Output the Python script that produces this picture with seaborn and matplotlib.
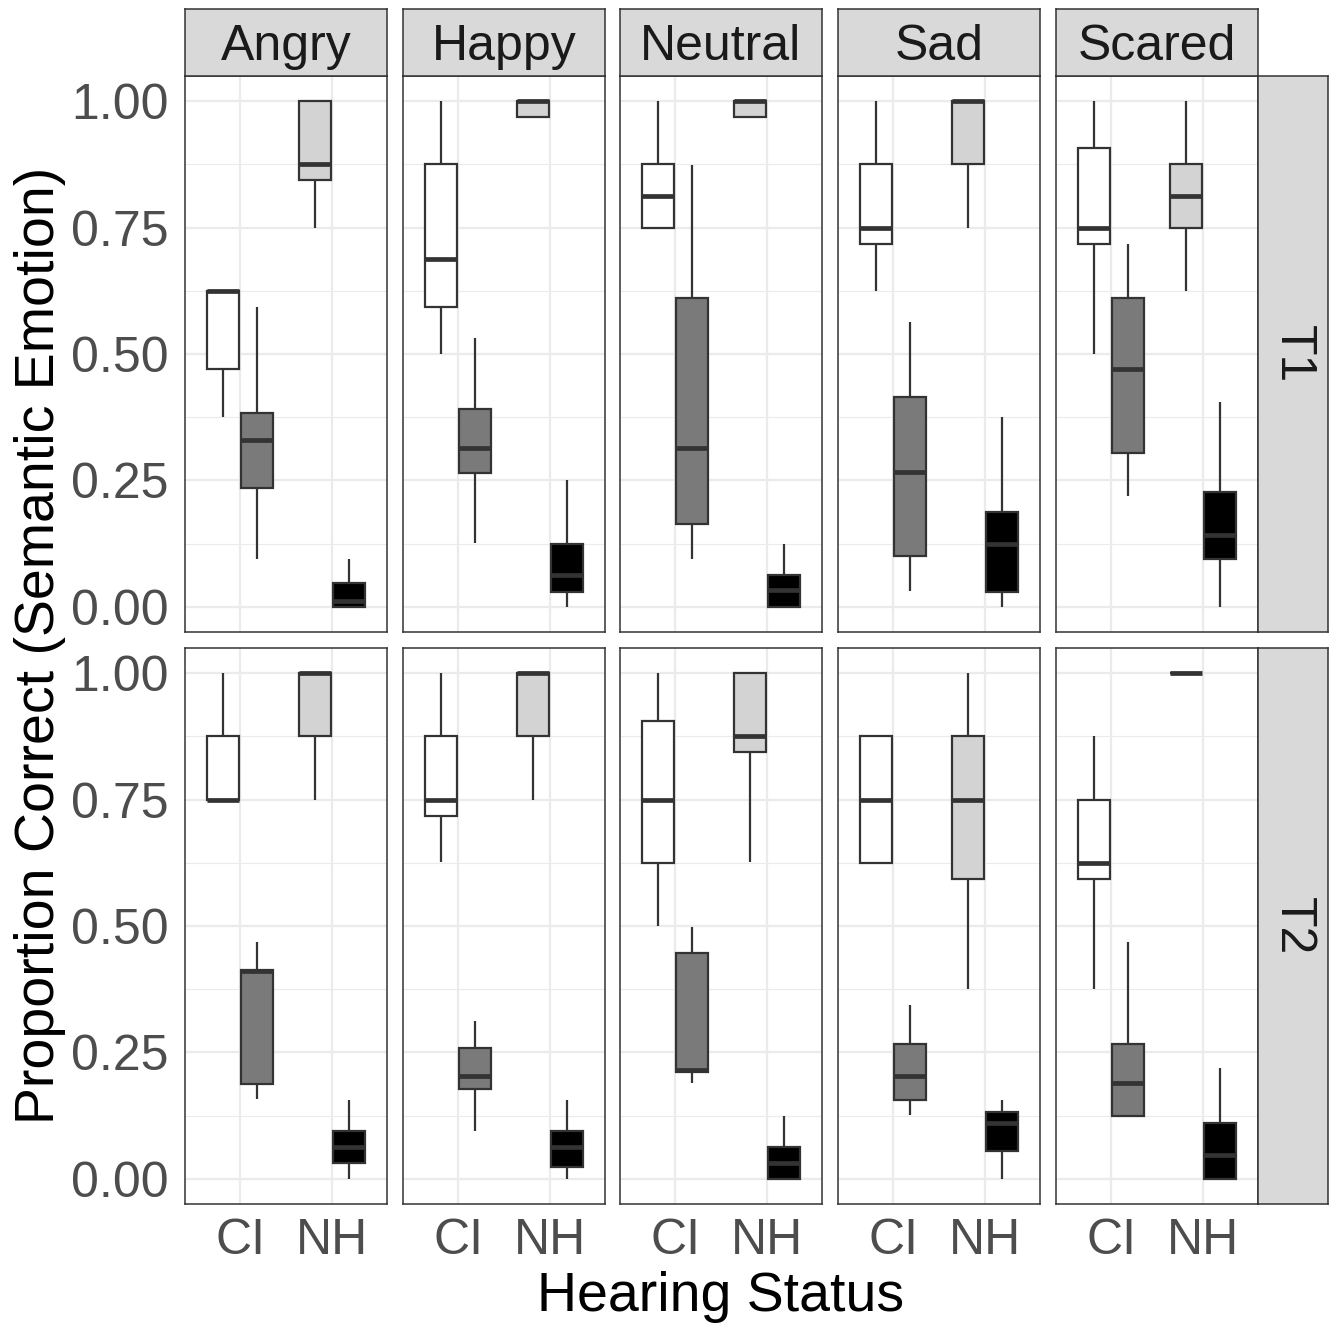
import numpy as np
import pandas as pd
import matplotlib
matplotlib.use("Agg")
import matplotlib.pyplot as plt
import seaborn as sns
from matplotlib.ticker import MultipleLocator, FixedLocator

sns.set_theme(style="white")
plt.rcParams["font.family"] = ["Liberation Sans", "DejaVu Sans"]

emotions = ["Angry", "Happy", "Neutral", "Sad", "Scared"]
times = ["T1", "T2"]
status_levels = ["CI", "NH"]
response_levels = ["Target", "Other"]
y_ticks = [0.0, 0.25, 0.5, 0.75, 1.0]
y_tick_labels = ["0.00", "0.25", "0.50", "0.75", "1.00"]

# box summaries [min, q1, median, q3, max]; order: CI-Target, CI-Other, NH-Target, NH-Other
angry_t1 = [[0.375, 0.47, 0.625, 0.625, 0.625], [0.094, 0.235, 0.329, 0.383, 0.593],
            [0.75, 0.844, 0.875, 1.0, 1.0], [0.0, 0.0, 0.012, 0.047, 0.094]]
happy_t1 = [[0.5, 0.593, 0.688, 0.875, 1.0], [0.126, 0.265, 0.314, 0.391, 0.531],
            [0.968, 0.968, 1.0, 1.0, 1.0], [0.0, 0.03, 0.063, 0.124, 0.25]]
neutral_t1 = [[0.75, 0.75, 0.8125, 0.875, 1.0], [0.094, 0.163, 0.314, 0.61, 0.874],
              [0.968, 0.968, 1.0, 1.0, 1.0], [0.0, 0.0, 0.033, 0.0625, 0.124]]
sad_t1 = [[0.625, 0.718, 0.75, 0.875, 1.0], [0.032, 0.101, 0.266, 0.414, 0.563],
          [0.75, 0.875, 1.0, 1.0, 1.0], [0.0, 0.03, 0.124, 0.1875, 0.375]]
scared_t1 = [[0.5, 0.718, 0.75, 0.907, 1.0], [0.219, 0.305, 0.47, 0.61, 0.718],
             [0.625, 0.75, 0.8125, 0.875, 1.0], [0.0, 0.094, 0.142, 0.226, 0.405]]
angry_t2 = [[0.75, 0.75, 0.75, 0.875, 1.0], [0.157, 0.1875, 0.41, 0.412, 0.468],
            [0.75, 0.875, 1.0, 1.0, 1.0], [0.0, 0.032, 0.0625, 0.095, 0.156]]
happy_t2 = [[0.626, 0.718, 0.75, 0.875, 1.0], [0.095, 0.178, 0.203, 0.258, 0.312],
            [0.75, 0.875, 1.0, 1.0, 1.0], [0.0, 0.0225, 0.0625, 0.095, 0.156]]
neutral_t2 = [[0.5, 0.625, 0.75, 0.906, 1.0], [0.189, 0.212, 0.216, 0.446, 0.499],
              [0.626, 0.844, 0.876, 1.0, 1.0], [0.0, 0.0, 0.032, 0.0625, 0.124]]
sad_t2 = [[0.625, 0.625, 0.75, 0.875, 0.875], [0.126, 0.156, 0.203, 0.266, 0.343],
          [0.376, 0.593, 0.75, 0.875, 1.0], [0.0, 0.054, 0.11, 0.133, 0.156]]
scared_t2 = [[0.376, 0.593, 0.625, 0.75, 0.875], [0.124, 0.124, 0.189, 0.266, 0.468],
             [1.0, 1.0, 1.0, 1.0, 1.0], [0.0, 0.0, 0.047, 0.11, 0.219]]

panels = {
    ("T1", "Angry"): angry_t1, ("T1", "Happy"): happy_t1, ("T1", "Neutral"): neutral_t1,
    ("T1", "Sad"): sad_t1, ("T1", "Scared"): scared_t1,
    ("T2", "Angry"): angry_t2, ("T2", "Happy"): happy_t2, ("T2", "Neutral"): neutral_t2,
    ("T2", "Sad"): sad_t2, ("T2", "Scared"): scared_t2,
}

rows = []
for (t, e), boxes in panels.items():
    k = 0
    for s in status_levels:
        for r in response_levels:
            for v in boxes[k]:
                rows.append(dict(Time=t, Emotion=e, Status=s, Response=r, Value=v))
            k += 1
df = pd.DataFrame(rows)

palettes = {"CI": {"Target": "white", "Other": "#7A7A7A"},
            "NH": {"Target": "#D3D3D3", "Other": "black"}}

W, H = 1337, 1324
fig = plt.figure(figsize=(W / 100, H / 100), dpi=100)

col_left = [185, 403, 620, 838, 1056]
pw = 202
row_top = [76, 648]
ph = 556
edge = "#333333"

def fax(x, y, w, h):
    return fig.add_axes([x / W, 1 - (y + h) / H, w / W, h / H])

for ri, t in enumerate(times):
    for ci, e in enumerate(emotions):
        ax = fax(col_left[ci], row_top[ri], pw, ph)
        sub = df[(df.Time == t) & (df.Emotion == e)]
        for s in status_levels:
            sns.boxplot(data=sub[sub.Status == s], x="Status", y="Value", hue="Response",
                        order=status_levels, hue_order=response_levels, palette=palettes[s],
                        width=0.75, gap=0.06, dodge=True, whis=(0, 100), linecolor=edge,
                        linewidth=1.6, showcaps=False, legend=False, ax=ax,
                        medianprops=dict(linewidth=3.4, color=edge),
                        whiskerprops=dict(linewidth=1.6, color=edge))
        ax.set_xlim(-0.6, 1.6)
        ax.set_ylim(-0.05, 1.05)
        ax.set_axisbelow(True)
        ax.yaxis.set_major_locator(FixedLocator(y_ticks))
        ax.yaxis.set_minor_locator(FixedLocator([0.125, 0.375, 0.625, 0.875]))
        ax.xaxis.set_major_locator(FixedLocator([0, 1]))
        ax.grid(True, which="major", color="#EBEBEB", linewidth=1.6)
        ax.grid(True, which="minor", axis="y", color="#EBEBEB", linewidth=0.8)
        ax.set_xlabel("")
        ax.set_ylabel("")
        ax.set_facecolor("white")
        for sp in ax.spines.values():
            sp.set_color(edge)
            sp.set_linewidth(1.1)
            sp.set_visible(True)
        ax.tick_params(axis="both", which="major", length=5, width=1.3, color=edge,
                       labelsize=36, labelcolor="#4D4D4D")
        ax.tick_params(axis="y", which="minor", length=0)
        ax.tick_params(axis="x", pad=5)
        ax.tick_params(axis="y", pad=7)
        if ci == 0:
            ax.set_yticklabels(y_tick_labels)
        else:
            ax.tick_params(axis="y", left=False, labelleft=False)
        if ri == 1:
            ax.set_xticklabels(status_levels)
        else:
            ax.tick_params(axis="x", bottom=False, labelbottom=False)

# top strips
for ci, e in enumerate(emotions):
    sax = fax(col_left[ci], 9, pw, 67)
    sax.set_facecolor("#D9D9D9")
    sax.set_xticks([]); sax.set_yticks([])
    for sp in sax.spines.values():
        sp.set_color(edge); sp.set_linewidth(1.1); sp.set_visible(True)
    sax.text(0.5, 0.44, e, ha="center", va="center", fontsize=36, color="#1A1A1A",
             transform=sax.transAxes)

# right strips
for ri, t in enumerate(times):
    sax = fax(1258, row_top[ri], 70, ph)
    sax.set_facecolor("#D9D9D9")
    sax.set_xticks([]); sax.set_yticks([])
    for sp in sax.spines.values():
        sp.set_color(edge); sp.set_linewidth(1.1); sp.set_visible(True)
    sax.text(0.5, 0.5, t, ha="center", va="center", fontsize=36, color="#1A1A1A",
             rotation=-90, transform=sax.transAxes)

fig.text(721 / W, 1 - 1297 / H, "Hearing Status", ha="center", va="center",
         fontsize=40, color="black")
fig.text(40 / W, 1 - 645 / H, "Proportion Correct (Semantic Emotion)", ha="center",
         va="center", rotation=90, fontsize=40, color="black")

fig.savefig("out.png", dpi=100, facecolor="white")
